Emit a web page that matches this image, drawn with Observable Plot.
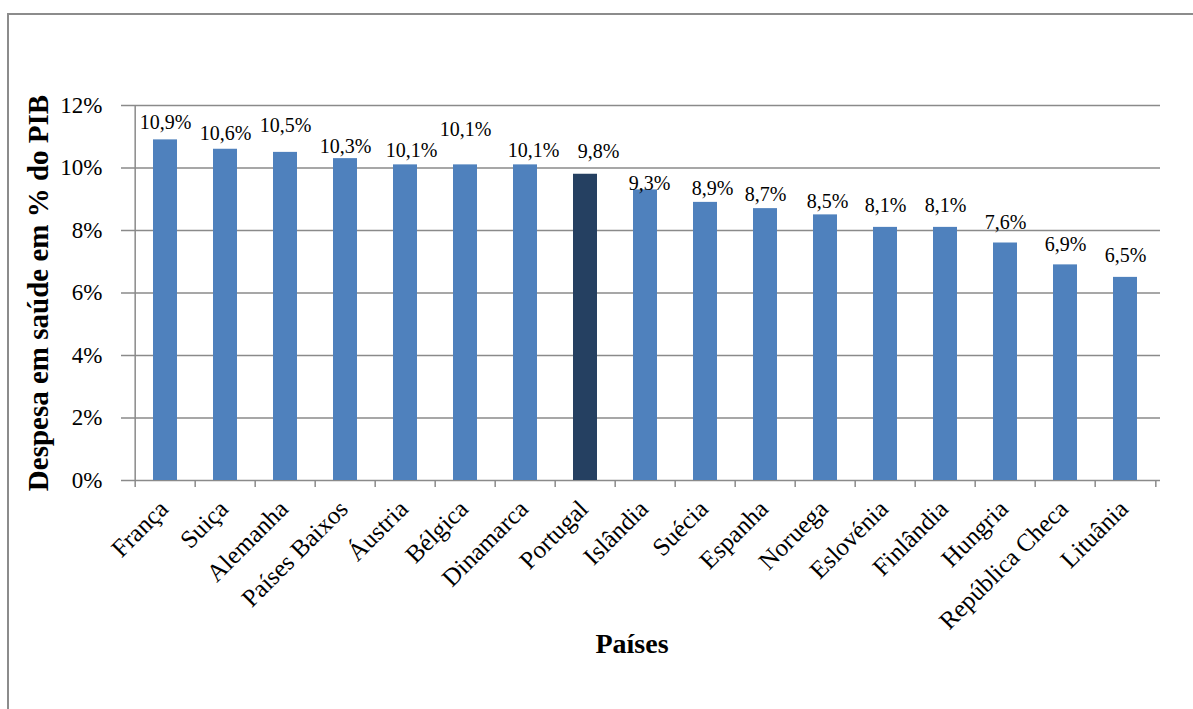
<!DOCTYPE html>
<html>
<head>
<meta charset="utf-8">
<script src="https://cdn.jsdelivr.net/npm/d3@7"></script>
<script src="https://cdn.jsdelivr.net/npm/@observablehq/plot@0.6"></script>
<style>
  html, body { margin: 0; padding: 0; background: #fff; overflow: hidden; }
  #chart { position: relative; width: 1193px; height: 709px; }
  #chart svg { position: absolute; left: 0; top: 0; }
  #moldura { position: absolute; left: 7px; top: 13px; width: 1220px; height: 740px;
             border: 2px solid #8c8c8c; box-sizing: border-box; pointer-events: none; }
</style>
</head>
<body>
<div id="chart"><div id="moldura"></div></div>
<script>
// Despesa em saúde em % do PIB, por país
const paises = ["França", "Suiça", "Alemanha", "Países Baixos", "Áustria", "Bélgica", "Dinamarca",
  "Portugal", "Islândia", "Suécia", "Espanha", "Noruega", "Eslovénia", "Finlândia", "Hungria",
  "República Checa", "Lituânia"];
const despesa = [10.9, 10.6, 10.5, 10.3, 10.1, 10.1, 10.1, 9.8, 9.3, 8.9, 8.7, 8.5, 8.1, 8.1, 7.6, 6.9, 6.5];
const destaque = "Portugal";
const yTicks = [0, 2, 4, 6, 8, 10, 12];
const tituloY = "Despesa em saúde em % do PIB";
const tituloX = "Países";

const dados = paises.map((p, i) => ({pais: p, valor: despesa[i]}));

// dimensões do gráfico
const W = 1193, H = 709;
const mL = 129, mR = 33, mT = 105, mB = 229;
const meioPasso = (W - mL - mR) / paises.length / 2;

// pequenos ajustes na posição dos rótulos de valor
const ajusteRotulo = {
  "França": [0, -3], "Suiça": [0, -1], "Alemanha": [0, -12], "Países Baixos": [0, 2],
  "Áustria": [6, 0], "Bélgica": [0, -21], "Dinamarca": [8, 0], "Portugal": [13, -8],
  "Islândia": [4, 8], "Suécia": [7, 1], "Noruega": [2, 1], "Eslovénia": [0, -7],
  "Finlândia": [0, -7], "Hungria": [0, -6], "República Checa": [0, -6], "Lituânia": [0, -7]
};

const serif = "'Liberation Serif', 'Times New Roman', serif";
const cinza = "#8a8a8a";
const fmt = v => v.toFixed(1).replace(".", ",") + "%";

const rotulos = paises.map(p => {
  const [dx, dy] = ajusteRotulo[p] || [0, 0];
  const d = dados.find(e => e.pais === p);
  return Plot.text([d], {x: "pais", y: "valor", text: e => fmt(e.valor), lineAnchor: "bottom",
    dx, dy: -8 + dy, fontSize: 20, fill: "#000"});
});

const chart = Plot.plot({
  width: W, height: H,
  marginLeft: mL, marginRight: mR, marginTop: mT, marginBottom: mB,
  style: {fontFamily: serif, background: "transparent", overflow: "visible"},
  x: {type: "band", domain: paises, paddingInner: 0.6, paddingOuter: 0.3, axis: null},
  y: {domain: [0, 12], axis: null},
  color: {type: "identity"},
  marks: [
    // linhas de grelha horizontais (com pequeno prolongamento à esquerda)
    Plot.ruleY(yTicks, {stroke: cinza, strokeWidth: 1.5, insetLeft: -8}),
    // eixo vertical
    Plot.ruleX([paises[0]], {y1: 0, y2: 12, dx: -meioPasso, stroke: cinza, strokeWidth: 1.5}),
    // marcas de divisão entre categorias
    Plot.axisX({ticks: paises, tickSize: 7, tickFormat: () => "", label: null, dx: -meioPasso, stroke: cinza, strokeWidth: 1.5}),
    Plot.axisX({ticks: [paises[paises.length - 1]], tickSize: 7, tickFormat: () => "", label: null, dx: meioPasso, stroke: cinza, strokeWidth: 1.5}),
    // barras
    Plot.barY(dados, {x: "pais", y: "valor", fill: d => d.pais === destaque ? "#254061" : "#4F81BD"}),
    // rótulos de valor
    ...rotulos,
    // rótulos do eixo Y
    Plot.axisY({ticks: yTicks, tickSize: 0, tickPadding: 27, tickFormat: d => d + "%", fontSize: 23, fill: "#000", label: null}),
    // rótulos das categorias, rodados a 45°
    Plot.text(paises, {x: d => d, frameAnchor: "bottom", text: d => d, rotate: -45, textAnchor: "end",
      dx: 4, dy: 30, fontSize: 25, fill: "#000"}),
    // títulos dos eixos
    Plot.text([tituloY], {frameAnchor: "left", textAnchor: "middle", rotate: -90, dx: -91, fontSize: 29, fontWeight: "bold", fill: "#000"}),
    Plot.text([tituloX], {frameAnchor: "bottom", textAnchor: "middle", dx: -13, dy: 172, fontSize: 28, fontWeight: "bold", fill: "#000"})
  ]
});

document.getElementById("chart").prepend(chart);
</script>
</body>
</html>
